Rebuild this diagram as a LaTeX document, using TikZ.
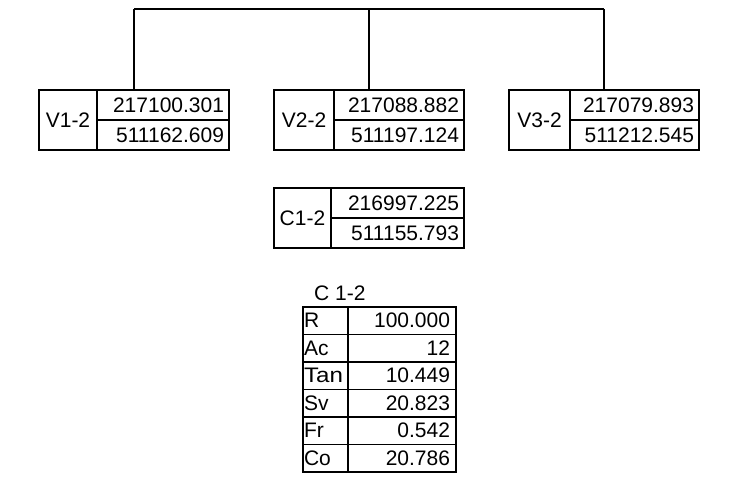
\documentclass[tikz,border=0pt]{standalone}
\usepackage{fontspec}
\usepackage{graphicx}
\setmainfont{Liberation Sans}
\newcommand\ptbox[8]{%
  \node[cell, anchor=north west, minimum width={#3-#2}, minimum height=60pt] (#1l) at (#2,#5) {#6};
  \node[cell, anchor=north west, text width={#4-#3-10}, align=right, inner xsep=5pt, minimum height=30pt] (#1a) at (#3,#5) {#7};
  \node[cell, anchor=north west, text width={#4-#3-10}, align=right, inner xsep=5pt, minimum height=30pt] (#1b) at (#3,{#5+30}) {#8};
}
\newcommand\trow[4]{%
  \node[cell, anchor=north west, text width=43pt, align=left, inner xsep=1pt, minimum height=27.5pt] (#1l) at (303,#2) {#3};
  \node[cell, anchor=north west, text width=96pt, align=right, inner xsep=6pt, minimum height=27.5pt] (#1v) at (348,#2) {#4};
}
\begin{document}
\begin{tikzpicture}[x=1pt,y=-1pt,
  cell/.style={draw, line width=1.6pt, inner ysep=0pt, outer sep=0pt, font=\fontsize{21}{23}\selectfont},
  wire/.style={line width=1.6pt},
  lbl/.style={inner sep=0pt, font=\fontsize{21}{23}\selectfont}]
\useasboundingbox (0,0) rectangle (733,495);
\ptbox{v1}{39}{97}{229}{90}{V1-2}{217100.301}{511162.609}
\ptbox{v2}{274}{334}{464}{90}{V2-2}{217088.882}{511197.124}
\ptbox{v3}{509}{570}{699}{90}{V3-2}{217079.893}{511212.545}
\ptbox{c1}{274}{331}{464}{188}{C1-2}{216997.225}{511155.793}
\coordinate (j1) at (134,9);
\coordinate (j2) at (369,9);
\coordinate (j3) at (604,9);
\draw[wire] (j1) -- (j3);
\draw[wire] (j1) -- (j1 |- v1a.north);
\draw[wire] (j2) -- (j2 |- v2a.north);
\draw[wire] (j3) -- (j3 |- v3a.north);
\node[lbl, anchor=base west] (title) at (314,300) {C 1-2};
\trow{r1}{307}{R}{100.000}
\trow{r2}{334.5}{Ac}{12}
\trow{r3}{362}{\scalebox{1.15}[1]{Tan}}{10.449}
\trow{r4}{389.5}{Sv}{20.823}
\trow{r5}{417}{Fr}{0.542}
\trow{r6}{444.5}{Co}{20.786}
\end{tikzpicture}
\end{document}
